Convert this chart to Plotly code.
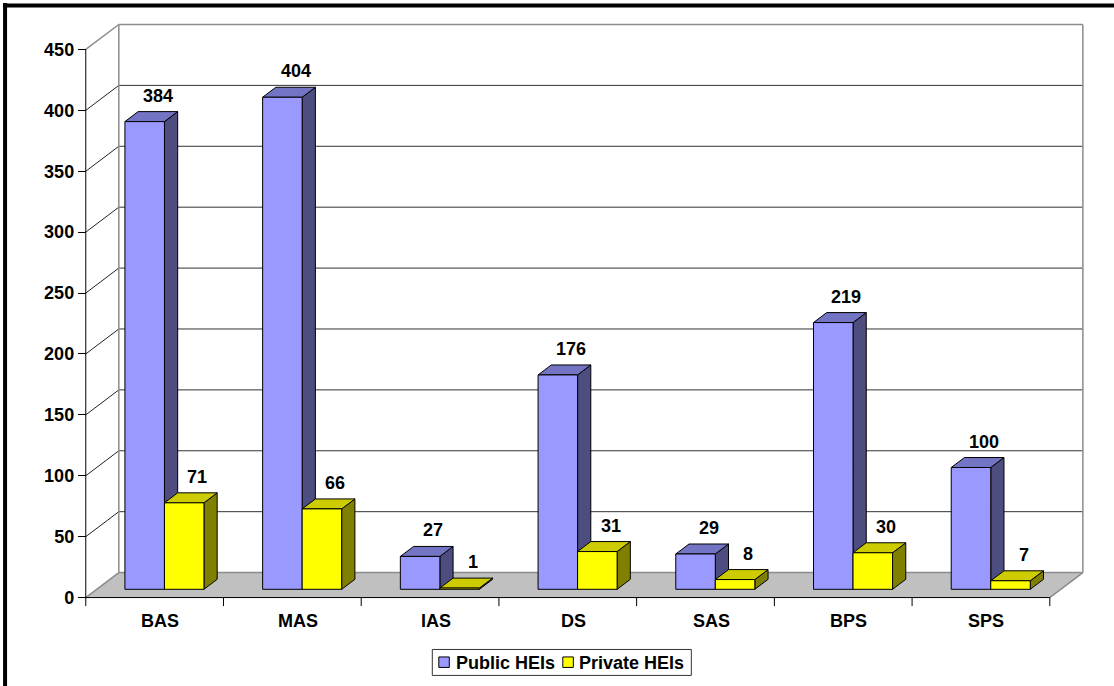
import plotly.graph_objects as go

# ---------------- data ----------------
categories = ["BAS", "MAS", "IAS", "DS", "SAS", "BPS", "SPS"]
public_heis = [384, 404, 27, 176, 29, 219, 100]
private_heis = [71, 66, 1, 31, 8, 30, 7]
y_ticks = [0, 50, 100, 150, 200, 250, 300, 350, 400, 450]
series_names = ["Public HEIs", "Private HEIs"]

# ---------------- style / pseudo-3D geometry ----------------
FONT = "Liberation Sans, Arial, sans-serif"
FS = 18
DX, DY = 0.24, 20.5          # depth offset (category units, value units)
F0, F1 = 0.33, 0.73          # bar depth range (fraction of floor depth)
GAP, BW = 0.205, 0.287       # bar gap / width inside a category
N = len(categories)
YMAX = y_ticks[-1]

colors = {
    0: dict(front="#9999FF", top="#7474C4", side="#4D4D80"),
    1: dict(front="#FFFF00", top="#CCCC00", side="#808000"),
}

X_RANGE = [-0.1, 7.35]
Y_RANGE = [-25, 475]
W, H = 1114, 686
L_M = 72.23
PLOT_W = 1025.9
T_M = 18.5
PLOT_H = 610.0


def P(x, v, f):
    return x + DX * f, v + DY * f


def px2paper(px, py):
    return (px - L_M) / PLOT_W, (T_M + PLOT_H - py) / PLOT_H


fig = go.Figure()


def add_poly(polys, color, line_color="black", lw=1, name=None):
    xs, ys = [], []
    for poly in polys:
        for (a, b) in poly:
            xs.append(a)
            ys.append(b)
        xs.append(poly[0][0])
        ys.append(poly[0][1])
        xs.append(None)
        ys.append(None)
    fig.add_trace(go.Scatter(x=xs, y=ys, mode="lines", fill="toself",
                             fillcolor=color, name=name,
                             line=dict(color=line_color, width=lw),
                             hoverinfo="skip", showlegend=False))


def add_lines(segs, color, lw=1):
    xs, ys = [], []
    for (p, q) in segs:
        xs += [p[0], q[0], None]
        ys += [p[1], q[1], None]
    fig.add_trace(go.Scatter(x=xs, y=ys, mode="lines",
                             line=dict(color=color, width=lw),
                             hoverinfo="skip", showlegend=False))


# floor
floor = [P(0, 0, 0), P(N, 0, 0), P(N, 0, 1), P(0, 0, 1)]
add_poly([floor], "#C0C0C0", line_color="#C0C0C0", lw=0.5)

# back wall gridlines
grid = [(P(0, v, 1), P(N, v, 1)) for v in y_ticks[1:-1]]
add_lines(grid, "#333333", 1)
# left wall diagonals
diag = [(P(0, v, 0), P(0, v, 1)) for v in y_ticks[1:-1]]
add_lines(diag, "#222222", 1)
# wall outline (gray)
outline = [
    (P(0, 0, 1), P(0, YMAX, 1)),
    (P(N, 0, 1), P(N, YMAX, 1)),
    (P(0, YMAX, 1), P(N, YMAX, 1)),
    (P(0, 0, 1), P(N, 0, 1)),
    (P(0, YMAX, 0), P(0, YMAX, 1)),
    (P(0, 0, 0), P(0, 0, 1)),
    (P(N, 0, 0), P(N, 0, 1)),
]
add_lines(outline, "#8C8C8C", 1.5)

# bars
for s, vals in enumerate([public_heis, private_heis]):
    sides, tops, fronts = [], [], []
    for i, v in enumerate(vals):
        x0 = i + GAP + s * BW
        x1 = x0 + BW
        fronts.append([P(x0, 0, F0), P(x1, 0, F0), P(x1, v, F0), P(x0, v, F0)])
        tops.append([P(x0, v, F0), P(x1, v, F0), P(x1, v, F1), P(x0, v, F1)])
        sides.append([P(x1, 0, F0), P(x1, 0, F1), P(x1, v, F1), P(x1, v, F0)])
    add_poly(sides, colors[s]["side"], name=series_names[s])
    add_poly(tops, colors[s]["top"], name=series_names[s])
    add_poly(fronts, colors[s]["front"], name=series_names[s])

# front axis lines and category tick marks
axis = [(P(0, 0, 0), P(0, YMAX, 0)), (P(0, 0, 0), P(N, 0, 0))]
axis += [((k, 0), (k, -7)) for k in range(N + 1)]
add_lines(axis, "black", 1)

annotations = []
bold = dict(family=FONT, size=FS, color="black", weight="bold")
# data labels
for s, vals in enumerate([public_heis, private_heis]):
    for i, v in enumerate(vals):
        xc = i + GAP + s * BW + BW / 2
        lx, ly = P(xc, v, F1)
        annotations.append(dict(x=lx, y=ly, text=str(v), showarrow=False,
                                xanchor="center", yanchor="middle", yshift=16,
                                font=bold))
# category labels
for i, c in enumerate(categories):
    annotations.append(dict(x=i + 0.54, y=-19, text=c, showarrow=False,
                            xanchor="center", yanchor="middle", font=bold))

shapes = []
# outer frame (left and top edges visible)
fx0, fy0 = px2paper(5.3, 5)
fx1, fy1 = px2paper(1130, 720)
shapes += [
    dict(type="line", xref="paper", yref="paper", x0=fx0, x1=fx0, y0=fy0 + 0.004, y1=fy1,
         line=dict(color="black", width=4)),
    dict(type="line", xref="paper", yref="paper", x0=fx0 - 0.002, x1=fx1, y0=fy0, y1=fy0,
         line=dict(color="black", width=4)),
]

# legend box (drawn to match the reference's compact legend)
lx0, ly0 = px2paper(432.5, 650)
lx1, ly1 = px2paper(691.5, 676)
shapes.append(dict(type="rect", xref="paper", yref="paper", x0=lx0, x1=lx1,
                   y0=ly1, y1=ly0, line=dict(color="#333333", width=1),
                   fillcolor="white"))
legend_swatch_px = [439, 563]
legend_text_px = [454, 577]
for s, name in enumerate(series_names):
    sx0, sy0 = px2paper(legend_swatch_px[s], 657.5)
    sx1, sy1 = px2paper(legend_swatch_px[s] + 10.5, 668)
    shapes.append(dict(type="rect", xref="paper", yref="paper", x0=sx0, x1=sx1,
                       y0=sy1, y1=sy0, line=dict(color="black", width=1),
                       fillcolor=colors[s]["front"]))
    tx, ty = px2paper(legend_text_px[s], 663.5)
    annotations.append(dict(x=tx, y=ty, xref="paper", yref="paper", text=name,
                            showarrow=False, xanchor="left", yanchor="middle",
                            font=bold))

y_pos = (0 - X_RANGE[0]) / (X_RANGE[1] - X_RANGE[0])

fig.update_layout(
    width=W, height=H,
    margin=dict(l=L_M, r=W - L_M - PLOT_W, t=T_M, b=H - T_M - PLOT_H, pad=0),
    paper_bgcolor="white", plot_bgcolor="white",
    font=dict(family=FONT, size=FS, color="black"),
    xaxis=dict(range=X_RANGE, visible=False, fixedrange=True),
    yaxis=dict(range=Y_RANGE, tickvals=y_ticks, ticktext=[str(t) for t in y_ticks],
               ticks="outside", ticklen=8, tickcolor="black", tickwidth=1,
               showgrid=False, zeroline=False, showline=False,
               anchor="free", position=y_pos, fixedrange=True,
               tickfont=bold),
    showlegend=False,
    annotations=annotations,
    shapes=shapes,
)

fig.write_html("out.html")
